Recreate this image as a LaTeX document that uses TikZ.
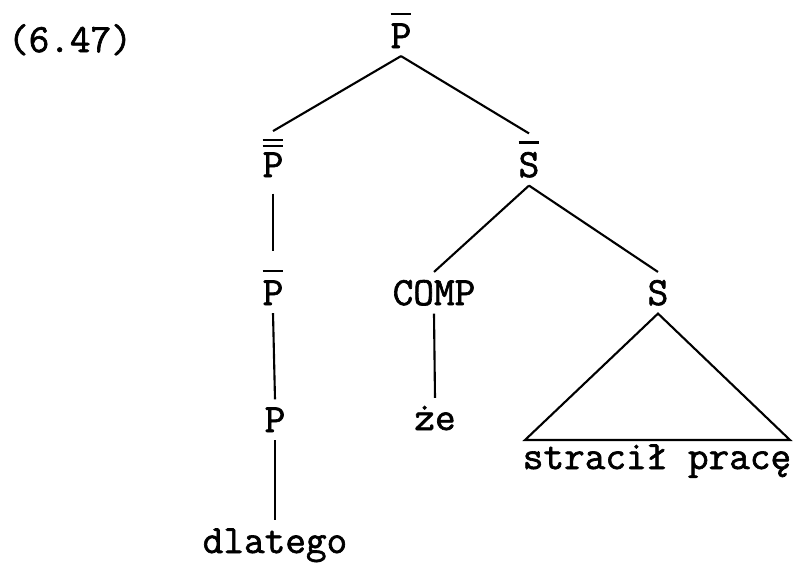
\documentclass[tikz,border=0pt]{standalone}
\usepackage{fontspec}
\newfontfamily\tree{Latin Modern Mono}[FakeBold=1.6]
\usetikzlibrary{positioning}
\newcommand\onebar[1]{\vbox{\hrule height 1.5pt\kern 6pt\hbox{#1}}}
\newcommand\twobar[1]{\vbox{\hrule height 1.5pt\kern 2.5pt\hrule height 1.5pt\kern 4pt\hbox{#1}}}
\begin{document}
\begin{tikzpicture}[x=0.025cm, y=-0.025cm, line width=1.5pt,
  lab/.style={anchor=base, inner sep=5pt, font=\tree\fontsize{28.5}{33}\selectfont}]
  \useasboundingbox (0,0) rectangle (797,562);

  \node[lab] (num) at (70,52) {(6.47)};
  \node[lab] (pbar) at (401,48) {\onebar{P}};
  \node[lab] (pbarbar) at (273,177) {\twobar{P}};
  \node[lab] (sbar) at (529,177) {\onebar{S}};
  \node[lab] (pone) at (273,305) {\onebar{P}};
  \node[lab] (comp) at (434,305) {COMP};
  \node[lab] (s) at (658,305) {S};
  \node[lab] (p) at (275,432) {P};
  \node[lab] (ze) at (435,430) {że};
  \node[lab] (dlatego) at (275,553) {dlatego};
  \node[lab] (stracil) at (657,469) {stracił pracę};
  \coordinate (tl) at (525,440);
  \coordinate (tr) at (790,440);

  \draw (pbar.south) -- (pbarbar.north);
  \draw (pbar.south) -- (sbar.north);
  \draw[shorten <=6pt, shorten >=8pt] (pbarbar.south) -- (pone.north);
  \draw (pone.south) -- (p.north);
  \draw (p.south) -- (dlatego.north);
  \draw (sbar.south) -- (comp.north);
  \draw (sbar.south) -- (s.north);
  \draw (comp.south) -- (ze.north);
  \draw (s.south) -- (tl) -- (tr) -- cycle;
\end{tikzpicture}
\end{document}
